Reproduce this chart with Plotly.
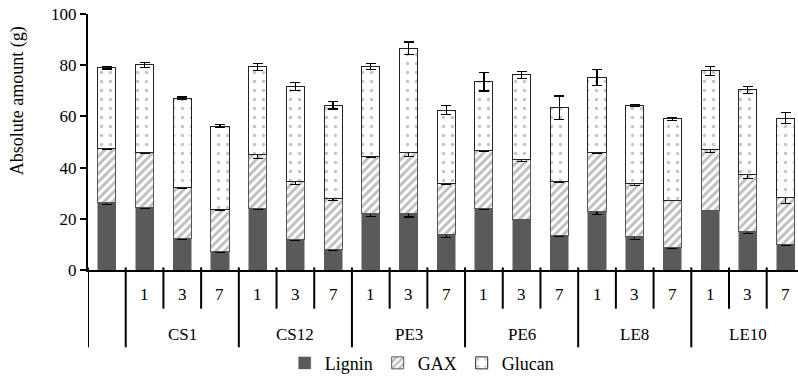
import plotly.graph_objects as go

sub_labels = ["", "1", "3", "7", "1", "3", "7", "1", "3", "7", "1", "3", "7", "1", "3", "7", "1", "3", "7"]
groups = ["CS1", "CS12", "PE3", "PE6", "LE8", "LE10"]

# cumulative tops, converted to segment amounts
lignin = [26.5, 24.5, 12.3, 7.1, 24.0, 12.0, 8.1, 22.2, 22.0, 13.8, 23.9, 19.9, 13.3, 22.7, 12.9, 8.9, 23.3, 14.9, 9.9]
gax = [21.0, 21.4, 20.1, 16.4, 21.1, 22.4, 19.8, 22.3, 23.9, 19.8, 22.9, 23.1, 21.2, 23.2, 20.7, 18.4, 23.9, 22.4, 18.3]
glucan = [31.5, 34.2, 34.7, 32.7, 34.2, 37.2, 36.4, 35.0, 40.7, 28.8, 26.8, 33.2, 28.9, 29.3, 30.7, 31.7, 30.6, 33.1, 31.1]
lignin_err = [1.0, 0.3, 0.3, 0.3, 0.4, 0.4, 0.4, 1.3, 1.3, 1.0, 0.2, 0.2, 0.2, 0.9, 1.1, 0.5, 0.2, 0.5, 0.3]
gax_err = [0.3, 0.5, 0.5, 0.4, 1.5, 0.9, 0.9, 0.4, 1.5, 0.2, 0.4, 0.5, 0.3, 0.4, 0.6, 0.2, 1.4, 1.7, 2.2]
glucan_err = [0.5, 0.9, 0.5, 0.5, 1.5, 1.5, 1.4, 1.2, 2.5, 1.8, 3.7, 1.4, 4.6, 3.0, 0.3, 0.5, 1.7, 1.4, 2.1]

FONT = "'Liberation Serif', 'Times New Roman', 'DejaVu Serif', serif"
n = len(sub_labels)
xs = list(range(n))

def err(a):
    return dict(type="data", array=a, visible=True, color="black", thickness=1.2, width=5)

fig = go.Figure()
fig.add_trace(go.Bar(x=xs, y=lignin, name="Lignin", width=0.48,
                     marker=dict(color="#5a5a5a", line=dict(color="#5a5a5a", width=0.5)),
                     error_y=err(lignin_err)))
fig.add_trace(go.Bar(x=xs, y=gax, name="GAX", width=0.48,
                     marker=dict(color="white", line=dict(color="#555555", width=1),
                                 pattern=dict(shape="/", fgcolor="#808080", bgcolor="white", size=6, solidity=0.5)),
                     error_y=err(gax_err)))
fig.add_trace(go.Bar(x=xs, y=glucan, name="Glucan", width=0.48,
                     marker=dict(color="white", line=dict(color="#222222", width=1),
                                 pattern=dict(shape=".", fgcolor="#8a8a8a", bgcolor="white", size=9, solidity=0.12)),
                     error_y=err(glucan_err)))

shapes = []
annotations = []
group_bounds = [-0.5, 0.5, 3.5, 6.5, 9.5, 12.5, 15.5]
for i in range(n):
    b = i - 0.5
    y1 = -0.302 if b in group_bounds else -0.151
    shapes.append(dict(type="line", xref="x", yref="paper", x0=b, x1=b, y0=0.01, y1=y1,
                       line=dict(color="black", width=2)))
for i, lab in enumerate(sub_labels):
    if lab:
        annotations.append(dict(x=i, y=-0.097, xref="x", yref="paper", text=lab, showarrow=False,
                                font=dict(family=FONT, size=17, color="black"), yanchor="middle"))
for g, name in enumerate(groups):
    annotations.append(dict(x=2 + 3 * g, y=-0.252, xref="x", yref="paper", text=name, showarrow=False,
                            font=dict(family=FONT, size=17, color="black"), yanchor="middle"))
annotations.append(dict(x=-71 / 710, y=(272 - 102) / 258, xref="paper", yref="paper",
                        text="Absolute amount (g)", showarrow=False, textangle=-90,
                        font=dict(family=FONT, size=18, color="black"),
                        xanchor="center", yanchor="middle"))

fig.update_layout(
    width=798, height=382,
    margin=dict(l=88, r=0, t=14, b=110),
    barmode="stack",
    plot_bgcolor="white", paper_bgcolor="white",
    font=dict(family=FONT, size=17, color="black"),
    showlegend=True,
    legend=dict(orientation="h", x=0.47, xanchor="center", y=-0.364, yanchor="middle",
                font=dict(family=FONT, size=18), itemwidth=30, traceorder="normal",
                bgcolor="rgba(0,0,0,0)"),
    shapes=shapes,
    annotations=annotations,
)
fig.update_xaxes(range=[-0.5, 18.33], showticklabels=False, ticks="", showgrid=False,
                 showline=True, linecolor="black", linewidth=2, zeroline=False, fixedrange=True)
fig.update_yaxes(range=[0, 100], tickvals=[0, 20, 40, 60, 80, 100], ticks="outside", ticklen=6,
                 tickwidth=1.5, tickcolor="black", showline=True, linecolor="black", linewidth=2,
                 showgrid=False, zeroline=False, tickfont=dict(family=FONT, size=17, color="black"))

fig.write_html("out.html")
